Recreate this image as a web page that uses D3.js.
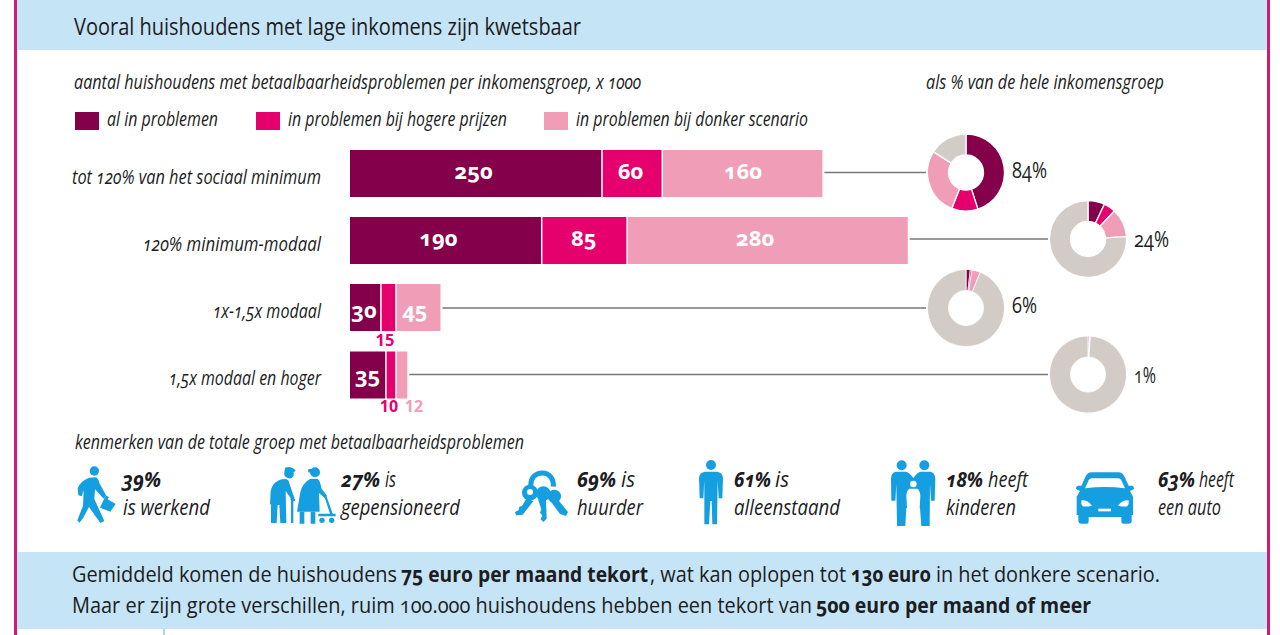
<!DOCTYPE html>
<html><head><meta charset="utf-8">
<script src="https://cdn.jsdelivr.net/npm/d3@7"></script>
<style>html,body{margin:0;padding:0;background:#fff;overflow:hidden}svg{display:block}
text{font-family:"Open Sans",sans-serif;font-feature-settings:"onum" 1;fill:#1c1c22}</style></head><body>
<script>
const groups=["tot 120% van het sociaal minimum","120% minimum-modaal","1x-1,5x modaal","1,5x modaal en hoger"];
const seriesNames=["al in problemen","in problemen bij hogere prijzen","in problemen bij donker scenario"];
const alInProblemen=[250,190,30,35];
const hogerePrijzen=[60,85,15,10];
const donkerScenario=[160,280,45,12];
const shareTotals=["84%","24%","6%","1%"];
const shareAl=[45,7,1.8,0.5];
const shareHoger=[11,5,0.7,0.2];
const shareDonker=[28,12,3.5,0.3];
const barColors=["#84004b","#e5006d","#f09db7"];
const restColor="#d3cbc5";

const W=1280,H=635;
const svg=d3.select("body").append("svg").attr("width",W).attr("height",H);
function T(s,x,y,len,o={}){
  const t=svg.append("text").attr("x",x).attr("y",y).text(s)
   .attr("font-size",o.size||19).attr("font-style",o.italic?"italic":"normal").attr("font-weight",o.bold?700:400);
  if(o.anchor)t.attr("text-anchor",o.anchor);
  if(o.fill)t.style("fill",o.fill);
  if(len){t.attr("textLength",len).attr("lengthAdjust","spacingAndGlyphs");}
  return t;
}
// frame
svg.append("rect").attr("x",17).attr("y",0).attr("width",1250).attr("height",50).attr("fill","#c5e5f7");
svg.append("rect").attr("x",17).attr("y",552).attr("width",1250).attr("height",77).attr("fill","#c5e5f7");
svg.append("rect").attr("x",163).attr("y",629).attr("width",2).attr("height",6).attr("fill","#a9d8f2");
svg.append("rect").attr("x",14).attr("y",0).attr("width",3).attr("height",635).attr("fill","#cf1b78");
svg.append("rect").attr("x",1267).attr("y",0).attr("width",3).attr("height",635).attr("fill","#cf1b78");

T("Vooral huishoudens met lage inkomens zijn kwetsbaar",74,35,507,{size:24});
T("aantal huishoudens met betaalbaarheidsproblemen per inkomensgroep, x 1000",74,89,567,{italic:true,size:20});
T("als % van de hele inkomensgroep",926,89,238,{italic:true,size:20});

// legend
[[75,107,111],[256,288,219],[544,576,232]].forEach((p,i)=>{
  svg.append("rect").attr("x",p[0]).attr("y",112).attr("width",24).attr("height",18).attr("fill",barColors[i]);
  T(seriesNames[i],p[1],126,p[2],{italic:true,size:20});
});

// bars
const x=d3.scaleLinear().domain([0,100]).range([350,450.5]);
const stackInput=groups.map((g,i)=>({g,a:alInProblemen[i],b:hogerePrijzen[i],c:donkerScenario[i]}));
const stacked=d3.stack().keys(["a","b","c"])(stackInput);
const rowH=47,rowY=[150,217,284,351.5];
const rowCenter=rowY.map(v=>v+rowH/2);
const labelLens=[249,178,108,152];
stacked.forEach((s,k)=>{
  svg.append("g").selectAll("rect").data(s).join("rect")
   .attr("x",d=>x(d[0])+(k?1.5:0))
   .attr("y",(d,i)=>rowY[i]).attr("height",rowH)
   .attr("width",d=>Math.max(1,x(d[1])-x(d[0])-(k?1.5:0)))
   .attr("fill",barColors[k]);
});
groups.forEach((g,i)=>T(g,321,rowCenter[i]+10,labelLens[i],{italic:true,size:20,anchor:"end"}));

// value labels
const labelDx=[[-2,-2,0,0],[-7,-1,-13,0],[-1,0,-4,0],[0,0,0,0]];
const labelDy=[5.5,5.5,10,7.5];
stacked.forEach((s,k)=>s.forEach((d,i)=>{
  const v=d[1]-d[0],cx=(x(d[0])+x(d[1]))/2+(k?1:0);
  const dx=labelDx[i][k];
  if(v>=30) T(String(v),cx+dx,rowCenter[i]+labelDy[i],null,{bold:true,size:22,anchor:"middle",fill:"#fff"});
}));
T(String(hogerePrijzen[2]),385,346,null,{bold:true,size:16.5,anchor:"middle",fill:"#e5006d"}).style("font-feature-settings","normal");
T(String(hogerePrijzen[3]),389,412,null,{bold:true,size:16,anchor:"middle",fill:"#e5006d"}).style("font-feature-settings","normal");
T(String(donkerScenario[3]),414,412,null,{bold:true,size:16,anchor:"middle",fill:"#f09db7"}).style("font-feature-settings","normal");

// leader lines + donuts
const donutX=[966,1088,966,1088];
const donutY=[172.5,239,308,374.5];
const totalDy=[5,8,5,8];
const arc=d3.arc().innerRadius(17.5).outerRadius(38.5);
const pie=d3.pie().sort(null).value(d=>d.v);
groups.forEach((g,i)=>{
  const stackEnd=x(alInProblemen[i]+hogerePrijzen[i]+donkerScenario[i]);
  svg.append("line").attr("x1",stackEnd+2).attr("x2",donutX[i]-40).attr("y1",donutY[i]).attr("y2",donutY[i])
    .attr("stroke","#77777a").attr("stroke-width",1.3);
  const rest=100-shareAl[i]-shareHoger[i]-shareDonker[i];
  const vals=[{v:shareAl[i],c:barColors[0]},{v:shareHoger[i],c:barColors[1]},{v:shareDonker[i],c:barColors[2]},{v:rest,c:restColor}];
  svg.append("g").attr("transform",`translate(${donutX[i]},${donutY[i]})`)
   .selectAll("path").data(pie(vals)).join("path").attr("d",arc).attr("fill",d=>d.data.c)
   .attr("stroke","#fff").attr("stroke-width",i>1?0.8:1.3);
  T(shareTotals[i],donutX[i]+46,donutY[i]+totalDy[i],[35,35,25,22][i],{size:21});
});

T("kenmerken van de totale groep met betaalbaarheidsproblemen",75,449,449,{italic:true,size:20});

// stats
const statBold=["39%","27%","69%","61%","18%","63%"];
const statRest=["","is","is","is","heeft","heeft"];
const statLine2=["is werkend","gepensioneerd","huurder","alleenstaand","kinderen","een auto"];
const statGeom=[[122,39,0,0,123,87],[341,39,385,11,341,119],[577,39,621,14,577,66],[734,37,775,14,734,106],[946,37,988,40,946,70],[1158,37,1199,35,1158,63]];
statBold.forEach((b,i)=>{
  const g=statGeom[i];
  T(b,g[0],487,g[1],{bold:true,italic:true,size:22});
  if(statRest[i])T(statRest[i],g[2],487,g[3],{italic:true,size:22});
  T(statLine2[i],g[4],515,g[5],{italic:true,size:22});
});

// icons: each drawn in a 3x crop space
const blue="#159fe0";
function icon(ox,oy){return svg.append("g").attr("fill",blue).attr("transform",`translate(${ox},${oy}) scale(${1/3})`);}
// walker + elderly
{const g=icon(65,455);
 g.append("circle").attr("cx",88).attr("cy",48).attr("r",14);
 g.append("path").attr("d","M72 68L93 67Q100 70 103 84L124 122L116 131L90 103L88 132L118 198L106 204L72 156L54 190L43 203L37 196L54 152L56 106L50 124L40 121L38 100Q46 78 72 68Z");
 g.append("path").attr("d","M105 158L118 130L124 122L132 126L128 133L152 147L136 170Z");
 g.append("path").attr("d","M660 38Q680 32 692 47L686 52L686 62A15 15 0 0 1 658 52Z");
 g.append("path").attr("d","M642 76Q660 68 670 76L682 112L688 128L680 134L662 108L664 204H646L643 150H638L635 204H618L618 132L622 150L615 148L617 108Q622 84 642 76Z");
 g.append("path").attr("d","M676 132Q682 124 690 132V138H685V204H678V136Z");
 g.append("circle").attr("cx",750).attr("cy",52).attr("r",15);
 g.append("circle").attr("cx",735).attr("cy",47).attr("r",6);
 g.append("path").attr("d","M735 72H758Q766 78 769 100L786 122L780 130L762 114L764 170H696L706 112Q712 84 735 72Z");
 g.append("path").attr("d","M704 170H718V206H704ZM737 170H751V206H737Z");
 g.append("path").attr("d","M778 124L784 122L803 176H812V184H760V176H795Z");
 g.append("circle").attr("cx",771).attr("cy",196).attr("r",8);
 g.append("circle").attr("cx",800).attr("cy",196).attr("r",8);}
// keys
{const g=icon(510,462);
 g.append("path").attr("fill","none").attr("stroke",blue).attr("stroke-width",15).attr("d","M62 72C62 45 78 33 97 33C118 33 132 50 130 74");
 g.append("circle").attr("cx",60).attr("cy",92).attr("r",24);
 g.append("circle").attr("cx",100).attr("cy",95).attr("r",22);
 g.append("circle").attr("cx",133).attr("cy",103).attr("r",20);
 g.append("path").attr("d","M50 108L70 118L38 158L18 160L15 150L26 144L28 134L36 132Z");
 g.append("path").attr("d","M84 112H108L110 170L100 180L92 172L97 160L90 152L94 142Z");
 g.append("path").attr("d","M122 118L140 108L174 150L168 162L150 156Z");
 g.append("circle").attr("cx",60).attr("cy",90).attr("r",9).attr("fill","#fff");
 g.append("path").attr("d","M80 62Q96 50 114 62L100 72Z").attr("fill","#fff");}
// person
{const g=icon(505,455);
 g.append("circle").attr("cx",618).attr("cy",30).attr("r",15);
 g.append("path").attr("d","M600 50H636Q652 52 654 68L652 130H641L638 76L636 208H622L620 138H616L612 208H598L598 76L595 130H584L582 68Q584 52 600 50Z");}
// family
{const g=icon(885,458);
 g.append("circle").attr("cx",50).attr("cy",22).attr("r",15);
 g.append("circle").attr("cx",118).attr("cy",22).attr("r",15);
 g.append("path").attr("d","M32 41H62Q74 44 85 60Q96 44 106 41H136Q150 44 151 62L149 128H138L135 78L134 204H109L105 150H64L61 204H36L34 78L31 128H19L18 62Q19 44 32 41Z");
 g.append("circle").attr("cx",85).attr("cy",78).attr("r",10).attr("fill","#fff");
 g.append("path").attr("fill","#fff").attr("d","M73 92H97Q106 98 106 115L104 150L100 206H88L85 165L82 206H70L66 150L64 115Q64 98 73 92Z");}
// car
{const g=icon(880,455);
 g.append("path").attr("d","M635 52H715Q728 52 735 68L746 92H756Q763 94 762 102L750 108L759 125V180H755V197Q755 206 745 206H730Q724 206 724 197V186H626V197Q626 206 620 206H605Q595 206 595 197V180H590V125L600 108L588 102Q587 94 594 92H604L615 68Q622 52 635 52Z");
 g.append("path").attr("fill","#fff").attr("d","M636 70H714Q722 70 726 80L735 100Q675 92 615 100L624 80Q628 70 636 70Z");
 g.append("path").attr("fill","#fff").attr("d","M604 136Q622 134 636 152Q618 156 608 154Q602 148 604 136ZM746 136Q728 134 714 152Q732 156 742 154Q748 148 746 136Z");
 g.append("rect").attr("fill","#fff").attr("x",655).attr("y",161).attr("width",38).attr("height",8);}

// footer
const footerLine1=["Gemiddeld komen de huishoudens","75 euro per maand tekort",", wat kan oplopen tot","130 euro","in het donkere scenario."];
const footerLine2=["Maar er zijn grote verschillen, ruim 100.000 huishoudens hebben een tekort van","500 euro per maand of meer"];
[[72,325,0],[401,247,1],[650,196,0],[851,80,1],[936,224,0]].forEach((p,i)=>T(footerLine1[i],p[0],582,p[1],{size:21,bold:!!p[2]}));
[[72,740,0],[816,275,1]].forEach((p,i)=>T(footerLine2[i],p[0],613,p[1],{size:21,bold:!!p[2]}));
</script></body></html>
